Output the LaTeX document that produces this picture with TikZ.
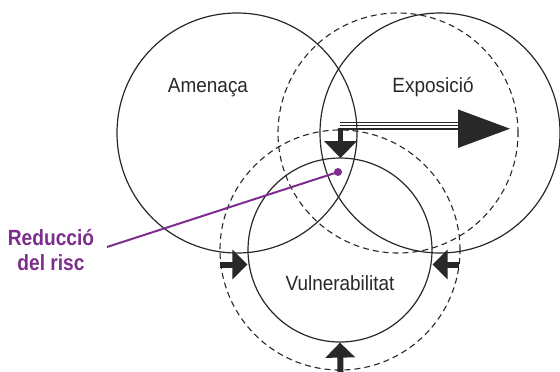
\documentclass[tikz,border=0pt]{standalone}
\usepackage{fontspec}
\setmainfont{Liberation Sans}
\newfontfamily\ringfont[FakeStretch=0.92]{Liberation Sans}
\newfontfamily\notefont[FakeStretch=0.87,BoldFont={* Bold}]{Liberation Sans}
\usetikzlibrary{arrows.meta}
\definecolor{riscpurple}{RGB}{125,45,140}
\definecolor{inkgray}{RGB}{40,40,40}

\begin{document}
\begin{tikzpicture}[x=0.5pt, y=-0.5pt,
    solidring/.style={circle, draw=inkgray, line width=0.6pt, inner sep=0pt},
    dashring/.style={circle, draw=inkgray, line width=0.55pt, dash pattern=on 3pt off 2pt, inner sep=0pt},
    ringlabel/.style={anchor=base, inner sep=0pt, text=inkgray, font=\ringfont\fontsize{10.3}{12}\selectfont},
    pusharrow/.style={draw=inkgray, line width=3pt, -{Triangle[length=7.5pt, width=14.5pt]}}]
  \useasboundingbox (0,0) rectangle (560,371);

  % Main circles
  \node (amenaca) [solidring, minimum size=120pt] at (237,133) {};
  \node (exposicio) [solidring, minimum size=120pt] at (440,133) {};
  \node (vulner) [solidring, minimum size=92pt] at (340,250) {};

  % Shifted (dashed) circles
  \node (exposhift) [dashring, minimum size=120pt] at (398,133) {};
  \node (vulnershift) [dashring, minimum size=120pt] at (340,250) {};

  % Labels
  \node (amenacatxt) [ringlabel] at (208,92) {Amenaça};
  \node (exposiciotxt) [ringlabel] at (433,92) {Exposició};
  \node (vulnertxt) [ringlabel] at (340,290) {Vulnerabilitat};

  % Arrow towards the right (Exposició)
  \draw [inkgray, line width=0.5pt] (340,122.5) -- (458,122.5);
  \draw [inkgray, line width=0.5pt] (340,125.5) -- (458,125.5);
  \draw [inkgray, line width=1pt, -{Triangle[length=26pt, width=19pt]}] (338,128.7) -- (510,128.7);
  \draw [inkgray, line width=2.5pt, -{Triangle[length=8.5pt, width=16pt]}] (340.5,128) -- (340.5,158);

  % Arrows pushing on Vulnerabilitat
  \coordinate (westpush) at (220,264.5);
  \coordinate (eastpush) at (459,264.5);
  \coordinate (southpush) at (340.5,372);
  \draw [pusharrow] (westpush) -- (vulner.west |- westpush);
  \draw [pusharrow] (eastpush) -- (vulner.east |- eastpush);
  \draw [pusharrow] (southpush) -- (vulner.south);

  % Reducció del risc
  \node (reduccio) [align=center, inner sep=0pt, anchor=north, text=riscpurple,
    font=\notefont\bfseries\fontsize{11}{12.5}\selectfont] at (51,229) {Reducció\\del risc};
  \coordinate (riscpoint) at (338,172);
  \coordinate (riscend) at (107,247);
  \fill [riscpurple] (riscpoint) circle [radius=4];
  \draw [riscpurple, line width=1pt] (riscpoint) -- (riscend);
\end{tikzpicture}
\end{document}
